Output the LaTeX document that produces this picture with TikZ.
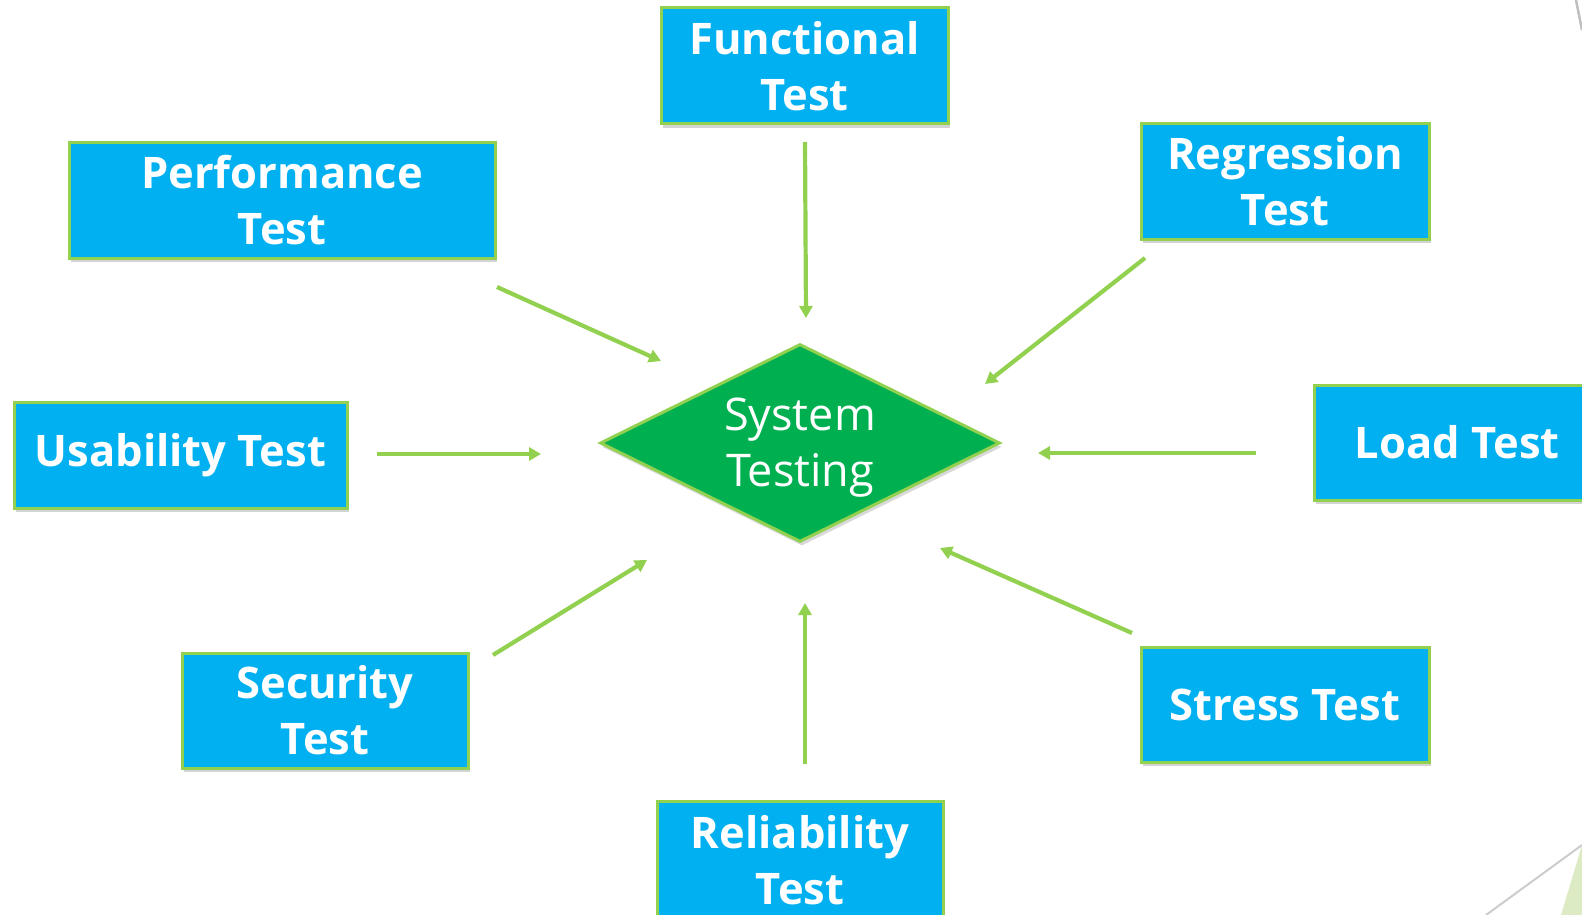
\documentclass[tikz,border=0pt]{standalone}
\usepackage{fontspec}
\setmainfont{Open Sans}
\usetikzlibrary{shapes.geometric,arrows.meta,shadows}
\definecolor{boxblue}{HTML}{00B0F0}
\definecolor{lgreen}{HTML}{92D050}
\definecolor{dgreen}{HTML}{00B050}
\definecolor{paleg}{HTML}{DCEBC3}
\tikzset{
  testbox/.style={draw=lgreen, line width=3pt, fill=boxblue, text=white,
    font=\bfseries\fontsize{43.5}{56}\selectfont, align=center,
    inner sep=0pt, drop shadow={shadow xshift=2pt, shadow yshift=-4pt, opacity=0.35, fill=gray}},
  sysbox/.style={diamond, draw=lgreen, line width=3pt, fill=dgreen,
    inner sep=0pt,
    drop shadow={shadow xshift=2pt, shadow yshift=-4pt, opacity=0.3, fill=gray}},
  systxt/.style={text=white, font=\fontsize{45}{56}\selectfont, align=center, inner sep=0pt},
  arr/.style={draw=lgreen, line width=4.2pt, -{Triangle[length=12pt,width=13pt]}}
}
\begin{document}
\begin{tikzpicture}[x=1pt,y=-1pt]
\useasboundingbox (0,0) rectangle (1582,915);
\clip (0,0) rectangle (1582,915);
% decorations
\fill[paleg] (1561,915) -- (1582,845) -- (1582,915) -- cycle;
\draw[gray!40, line width=2pt] (1486,915) -- (1582,845);
\draw[gray!50, line width=2.5pt] (1576,0) -- (1582,30);
% boxes
\node[testbox, minimum width=287pt, minimum height=116pt] (func) at (804.5,66) {Functional\\Test};
\node[testbox, minimum width=426pt, minimum height=115pt] (perf) at (282,200.5) {Performance\\Test};
\node[testbox, minimum width=288pt, minimum height=115pt] (regr) at (1285,181.5) {Regression\\Test};
\node[testbox, minimum width=333pt, minimum height=106pt] (usab) at (180.5,455) {Usability Test};
\node[testbox, minimum width=286pt, minimum height=115pt] (load) at (1457,442.5) {Load Test};
\node[testbox, minimum width=286pt, minimum height=115pt] (secu) at (325,710.5) {Security\\Test};
\node[testbox, minimum width=288pt, minimum height=115pt] (stre) at (1285,704.5) {Stress Test};
\node[testbox, minimum width=286pt, minimum height=118pt] (reli) at (800,860) {Reliability\\Test};
% diamond
\node[sysbox, minimum width=400pt, minimum height=198pt, aspect=2.02] (sys) at (800,443) {};
\node[systxt] (systext) at (800,448) {System\\Testing};
% arrow endpoints
\coordinate (fs) at (805,142); \coordinate (fe) at (806,318);
\coordinate (ps) at (497,287); \coordinate (pe) at (661,361);
\coordinate (rs) at (1145,258); \coordinate (re) at (985,384);
\coordinate (us) at (377,454); \coordinate (ue) at (541,454);
\coordinate (ls) at (1256,453); \coordinate (le) at (1038,453);
\coordinate (ss) at (493,655); \coordinate (se) at (647,560);
\coordinate (ts) at (1132,633); \coordinate (te) at (940,548);
\coordinate (bs) at (805,764); \coordinate (be) at (805,603);
\draw[arr] (fs) -- (fe);
\draw[arr] (ps) -- (pe);
\draw[arr] (rs) -- (re);
\draw[arr] (us) -- (ue);
\draw[arr] (ls) -- (le);
\draw[arr] (ss) -- (se);
\draw[arr] (ts) -- (te);
\draw[arr] (bs) -- (be);
\end{tikzpicture}
\end{document}
